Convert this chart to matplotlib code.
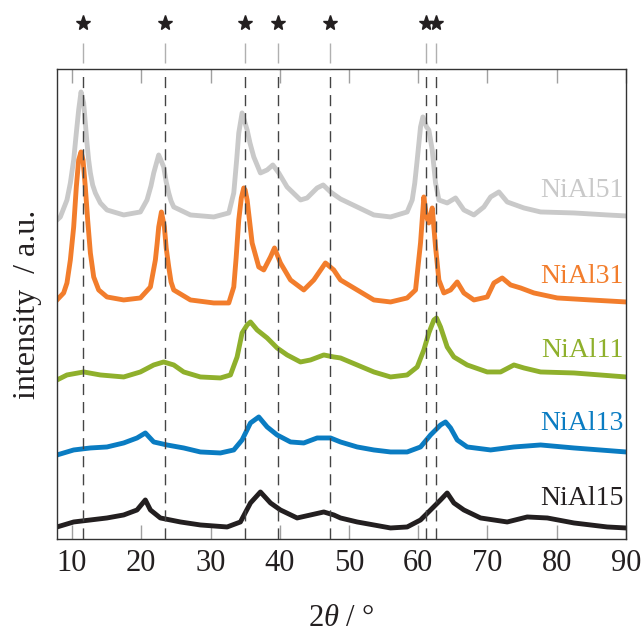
import matplotlib
matplotlib.use("Agg")
import matplotlib.pyplot as plt
import matplotlib.transforms as mtransforms

plt.rcParams['font.family'] = 'Liberation Serif'
plt.rcParams['mathtext.fontset'] = 'custom'
plt.rcParams['mathtext.rm'] = 'Liberation Serif'
plt.rcParams['mathtext.it'] = 'Liberation Serif:italic'

# reflex positions of the hydrotalcite phase (2theta, deg)
ref_peaks = [11.6, 23.5, 35.0, 39.7, 47.3, 61.1, 62.6]

# patterns, already stacked with an offset (arbitrary units)
x_51 = [7.83, 8.31, 9.27, 9.76, 10.24, 10.62, 10.96, 11.30, 11.68, 12.16,
        12.4, 12.65, 12.98, 13.37, 14.09, 15.05, 17.46, 19.87, 20.83, 21.4,
        21.80, 22.52, 23.24, 23.6, 23.97, 24.3, 24.69, 27.10, 30.47, 32.64,
        33.36, 33.8, 34.08, 34.56, 35.29, 35.7, 36.25, 37.21, 38.18, 39.0,
        39.86, 41.06, 43.0, 43.95, 45.4, 46.27, 47.33, 48.77, 51.18, 53.59,
        56.0, 58.4, 59.13, 59.5, 59.85, 60.33, 60.67, 61.2, 61.53, 62.02,
        62.5, 62.98, 64.18, 65.39, 66.59, 68.04, 69.48, 70.45, 71.65, 72.85,
        75.26, 77.67, 82.49, 87.3, 90.0]
y_51 = [318, 321, 338, 355, 378, 405, 428, 446, 435, 395,
        378, 365, 353, 345, 335, 328, 323, 326, 338, 352,
        365, 383, 371, 356, 345, 337, 331, 323, 321, 325,
        345, 380, 405, 425, 408, 395, 381, 365, 368, 373,
        365, 351, 338, 340, 350, 353, 346, 339, 331, 323,
        321, 326, 338, 355, 378, 411, 421, 411, 408, 388,
        355, 338, 335, 340, 328, 323, 331, 341, 346, 336,
        330, 326, 325, 323, 322]

x_31 = [7.83, 8.79, 9.27, 9.76, 10.24, 10.62, 10.96, 11.30, 11.59, 11.92,
        12.26, 12.65, 13.13, 13.85, 15.05, 17.46, 19.87, 21.32, 22.04, 22.3,
        22.52, 22.91, 23.34, 23.6, 23.97, 24.3, 24.69, 27.10, 30.47, 32.64,
        33.36, 33.7, 34.08, 34.45, 34.8, 35.0, 35.29, 36.01, 36.97, 37.69,
        38.66, 39.24, 40.1, 41.55, 43.47, 44.92, 46.6, 47.8, 48.77, 51.18,
        53.59, 56.0, 58.4, 59.61, 60.33, 60.81, 61.2, 61.53, 62.02, 62.5,
        62.98, 63.7, 64.67, 65.63, 66.59, 68.04, 69.96, 70.93, 72.13, 73.34,
        74.78, 76.71, 80.08, 84.9, 90.0]
y_31 = [238, 245, 255, 278, 311, 351, 378, 386, 378, 351,
        318, 285, 261, 248, 241, 238, 240, 251, 278, 295,
        311, 326, 311, 290, 271, 256, 248, 238, 235, 235,
        251, 280, 318, 340, 350, 348, 338, 295, 271, 268,
        281, 290, 275, 258, 248, 258, 275, 268, 258, 248,
        238, 236, 240, 248, 295, 341, 321, 315, 330, 291,
        258, 245, 248, 256, 245, 238, 241, 255, 260, 253,
        250, 245, 240, 238, 236]

x_11 = [7.83, 9.27, 11.68, 14.09, 17.46, 19.87, 21.8, 23.24, 24.69, 26.13,
        28.54, 31.43, 32.88, 33.84, 34.56, 35.29, 35.77, 36.73, 38.18, 39.62,
        41.07, 42.99, 44.44, 46.36, 47.81, 48.77, 51.18, 53.59, 56.0, 58.4,
        59.85, 60.81, 61.53, 62.26, 62.64, 63.22, 64.18, 65.15, 67.07, 69.96,
        71.89, 73.82, 75.26, 77.67, 82.49, 90.0]
y_11 = [158, 163, 166, 163, 161, 166, 173, 176, 173, 166,
        161, 160, 163, 181, 205, 213, 216, 208, 200, 190,
        183, 176, 178, 183, 181, 180, 173, 166, 161, 163,
        171, 188, 205, 218, 220, 211, 191, 181, 173, 166,
        166, 173, 170, 166, 165, 161]

x_13 = [7.83, 10.24, 12.65, 15.05, 17.46, 19.39, 20.59, 21.8, 23.72, 26.13,
        28.54, 31.43, 33.36, 34.56, 35.77, 36.97, 38.18, 39.62, 41.55, 43.47,
        45.4, 47.33, 48.77, 51.18, 53.59, 56.0, 58.4, 60.33, 61.78, 63.22,
        63.94, 64.67, 65.63, 67.07, 70.45, 73.82, 77.67, 82.49, 90.0]
y_13 = [83, 88, 90, 91, 95, 100, 105, 96, 93, 90,
        86, 85, 88, 98, 115, 121, 111, 103, 96, 95,
        100, 100, 96, 91, 88, 86, 86, 91, 103, 113,
        116, 110, 98, 91, 88, 91, 93, 90, 86]

x_15 = [7.83, 10.24, 12.65, 15.05, 17.46, 19.39, 20.59, 21.32, 22.76, 25.65,
        28.54, 32.4, 34.32, 35.77, 37.21, 38.66, 40.1, 42.51, 44.44, 46.36,
        47.81, 48.77, 51.18, 53.59, 56.0, 58.4, 60.33, 61.78, 63.22, 64.18,
        65.15, 66.59, 69.0, 72.85, 75.74, 78.64, 82.49, 87.3, 90.0]
y_15 = [11, 16, 18, 20, 23, 28, 38, 28, 20, 16,
        13, 11, 16, 35, 46, 35, 28, 20, 23, 26,
        23, 20, 16, 13, 10, 11, 18, 28, 38, 45,
        35, 28, 20, 16, 21, 20, 15, 11, 10]

names = ["NiAl51", "NiAl31", "NiAl11", "NiAl13", "NiAl15"]
label_y = [341, 255, 181, 108, 33]
colors = ["#c9c9c9", "#f27d2c", "#8fb02c", "#0a7cc2", "#231f20"]
xs = [x_51, x_31, x_11, x_13, x_15]
ys = [y_51, y_31, y_11, y_13, y_15]

fig = plt.figure(figsize=(6.44, 6.32), dpi=100)
ax = fig.add_axes([0.0885, 0.1472, 0.8835, 0.7437])

for x, y, c in zip(xs, ys, colors):
    ax.plot(x, y, color=c, lw=3.5, solid_joinstyle='round')

for name, ly, c in zip(names, label_y, colors):
    ax.text(89.7, ly, name, color=c, fontsize=20, ha='right', va='baseline')

# reference lines with stars above the frame
for p in ref_peaks:
    ax.axvline(p, color='#444444', lw=1.0, ls=(0, (8, 5)), zorder=3)
trans = mtransforms.blended_transform_factory(ax.transData, ax.transAxes)
ax.vlines(ref_peaks, 1.0128, 1.0553, color='#b0b0b0', lw=1.0,
          transform=trans, clip_on=False)
ax.plot(ref_peaks, [1.0985] * len(ref_peaks), '*', color='#231f20',
        markersize=11, transform=trans, clip_on=False)

ax.set_xlim(7.83, 90)
ax.set_ylim(-1, 469)
ax.set_xticks(range(10, 91, 10))
ax.set_yticks([])
ax.tick_params(axis='x', direction='in', length=10, width=1.0, color='#a0a0a0',
               top=True, labelsize=22, labelcolor='#231f20', pad=7)
for s in ax.spines.values():
    s.set_color('#333333')
    s.set_linewidth(1.0)

ax.set_xlabel(r"2$\theta$ / °", fontsize=22, color='#231f20', labelpad=19)
ax.text(-0.051, 0.5, "intensity  / a.u.", rotation=90, fontsize=23,
        color='#231f20', ha='center', va='center', transform=ax.transAxes)

fig.savefig("out.png", dpi=100)
